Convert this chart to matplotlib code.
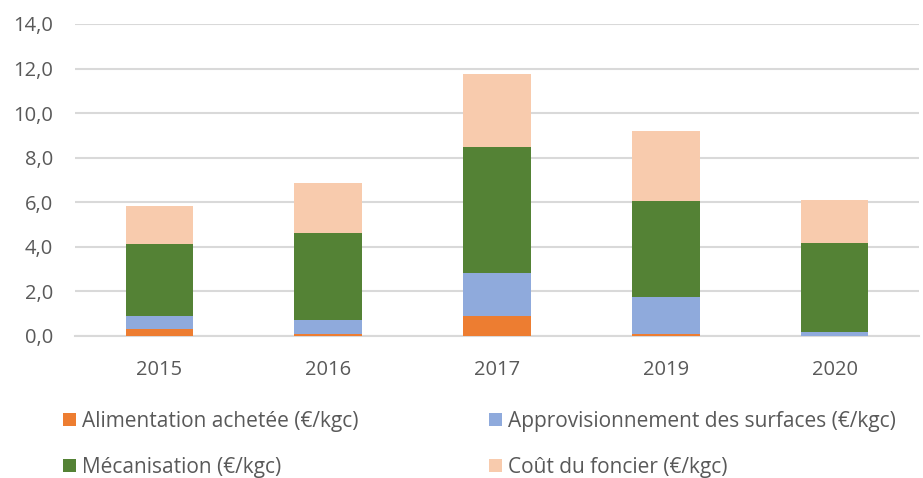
import matplotlib.pyplot as plt
import numpy as np

years = ['2015', '2016', '2017', '2019', '2020']
alimentation = [0.31, 0.08, 0.90, 0.10, 0.02]
approvisionnement = [0.59, 0.64, 1.94, 1.66, 0.16]
mecanisation = [3.25, 3.92, 5.63, 4.32, 4.01]
foncier = [1.70, 2.21, 3.30, 3.11, 1.93]

labels = ['Alimentation achetée (€/kgc)', 'Approvisionnement des surfaces (€/kgc)',
          'Mécanisation (€/kgc)', 'Coût du foncier (€/kgc)']
colors = ['#ED7D31', '#8FAADC', '#548235', '#F8CBAD']

plt.rcParams['font.family'] = ['Open Sans', 'DejaVu Sans']
text_color = '#595959'

fig = plt.figure(figsize=(9.23, 4.78), dpi=100)
ax = fig.add_axes([75 / 923, 1 - 336 / 478, 844 / 923, 312 / 478])

x = np.arange(len(years))
bottom = np.zeros(len(years))
bars = []
for vals, lab, col in zip([alimentation, approvisionnement, mecanisation, foncier], labels, colors):
    b = ax.bar(x, vals, width=0.4, bottom=bottom, color=col, label=lab, zorder=3)
    bars.append(b)
    bottom += np.array(vals)

ax.set_xlim(-0.5, len(years) - 0.5)
ax.set_ylim(0, 14)
ax.set_yticks(np.arange(0, 15, 2))
ax.set_yticklabels([f'{v:.1f}'.replace('.', ',') for v in np.arange(0, 15, 2)])
ax.set_xticks(x)
ax.set_xticklabels(years)
ax.yaxis.grid(True, color='#D9D9D9', linewidth=1.5, zorder=0)
ax.tick_params(axis='both', length=0, colors=text_color, labelsize=14.5)
ax.tick_params(axis='y', pad=16)
ax.tick_params(axis='x', pad=17)
for s in ['top', 'right', 'left']:
    ax.spines[s].set_visible(False)
ax.spines['bottom'].set_color('#D9D9D9')
ax.spines['bottom'].set_linewidth(1.5)

# two single-column legends so each column starts where it does in the original
leg_kw = dict(loc='upper left', frameon=False, fontsize=15, handlelength=0.63,
              handleheight=0.63, handletextpad=0.3, labelspacing=1.2,
              labelcolor=text_color, borderaxespad=0, borderpad=0)
leg1 = fig.legend(handles=[bars[0], bars[2]], labels=[labels[0], labels[2]],
                  bbox_to_anchor=(63 / 923, 1 - 411 / 478), **leg_kw)
leg2 = fig.legend(handles=[bars[1], bars[3]], labels=[labels[1], labels[3]],
                  bbox_to_anchor=(489 / 923, 1 - 411 / 478), **leg_kw)

fig.savefig('out.png', dpi=100)
